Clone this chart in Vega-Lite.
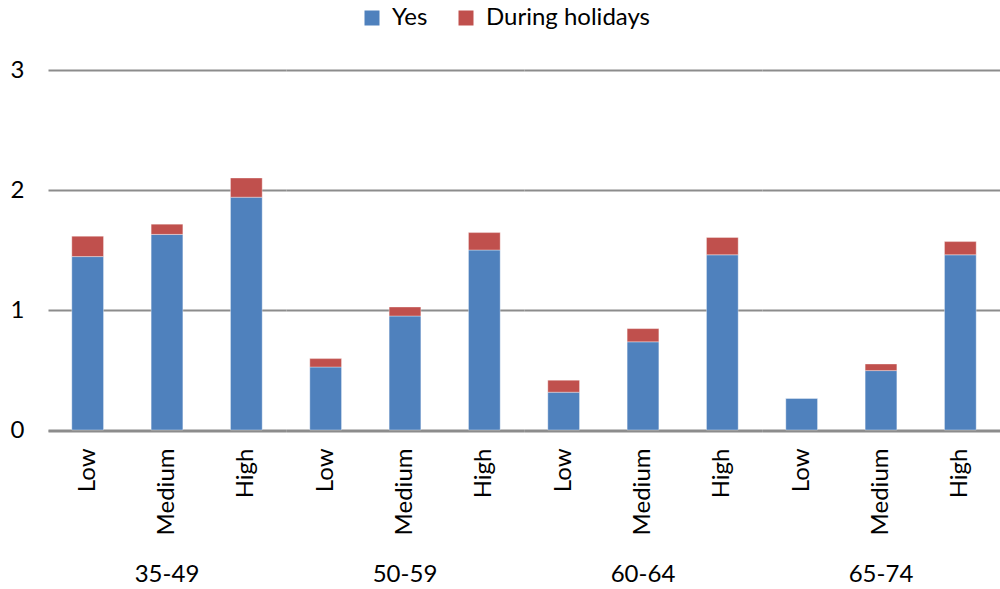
{
  "$schema": "https://vega.github.io/schema/vega-lite/v6.json",
  "background": "#ffffff",
  "padding": {"left": 10, "top": 6, "right": 0, "bottom": 0},
  "spacing": 0,
  "config": {
    "legend": {"layout": {"top": {"anchor": "middle"}}}
  },
  "data": {
    "values": [
      {"age": "35-49", "level": "Low", "answer": "Yes", "value": 1.445},
      {"age": "35-49", "level": "Low", "answer": "During holidays", "value": 0.17},
      {"age": "35-49", "level": "Medium", "answer": "Yes", "value": 1.63},
      {"age": "35-49", "level": "Medium", "answer": "During holidays", "value": 0.085},
      {"age": "35-49", "level": "High", "answer": "Yes", "value": 1.94},
      {"age": "35-49", "level": "High", "answer": "During holidays", "value": 0.16},
      {"age": "50-59", "level": "Low", "answer": "Yes", "value": 0.525},
      {"age": "50-59", "level": "Low", "answer": "During holidays", "value": 0.07},
      {"age": "50-59", "level": "Medium", "answer": "Yes", "value": 0.95},
      {"age": "50-59", "level": "Medium", "answer": "During holidays", "value": 0.075},
      {"age": "50-59", "level": "High", "answer": "Yes", "value": 1.5},
      {"age": "50-59", "level": "High", "answer": "During holidays", "value": 0.145},
      {"age": "60-64", "level": "Low", "answer": "Yes", "value": 0.315},
      {"age": "60-64", "level": "Low", "answer": "During holidays", "value": 0.1},
      {"age": "60-64", "level": "Medium", "answer": "Yes", "value": 0.735},
      {"age": "60-64", "level": "Medium", "answer": "During holidays", "value": 0.11},
      {"age": "60-64", "level": "High", "answer": "Yes", "value": 1.46},
      {"age": "60-64", "level": "High", "answer": "During holidays", "value": 0.145},
      {"age": "65-74", "level": "Low", "answer": "Yes", "value": 0.265},
      {"age": "65-74", "level": "Low", "answer": "During holidays", "value": 0},
      {"age": "65-74", "level": "Medium", "answer": "Yes", "value": 0.495},
      {"age": "65-74", "level": "Medium", "answer": "During holidays", "value": 0.055},
      {"age": "65-74", "level": "High", "answer": "Yes", "value": 1.46},
      {"age": "65-74", "level": "High", "answer": "During holidays", "value": 0.11}
    ]
  },
  "facet": {
    "column": {
      "field": "age",
      "type": "nominal",
      "sort": null,
      "title": null,
      "header": {
        "labelOrient": "bottom",
        "labelFont": "Lato",
        "labelFontSize": 24,
        "labelColor": "#000000",
        "labelPadding": 28
      }
    }
  },
  "spec": {
    "width": 238,
    "height": 360,
    "view": {"stroke": null},
    "mark": {"type": "bar", "stroke": "#ffffff", "strokeWidth": 0.6, "strokeOpacity": 0.6},
    "encoding": {
      "x": {
        "field": "level",
        "type": "nominal",
        "sort": ["Low", "Medium", "High"],
        "scale": {"paddingInner": 0.6, "paddingOuter": 0.3},
        "axis": {
          "title": null,
          "labelAngle": -90,
          "labelAlign": "right",
          "labelBaseline": "middle",
          "labelFont": "Lato",
          "labelFontSize": 24,
          "labelColor": "#000000",
          "labelPadding": 17,
          "ticks": false,
          "domainColor": "#8c8c8c",
          "domainWidth": 2
        }
      },
      "y": {
        "field": "value",
        "type": "quantitative",
        "stack": "zero",
        "scale": {"domain": [0, 3], "nice": false},
        "axis": {
          "title": null,
          "values": [0, 1, 2, 3],
          "format": "d",
          "labelFont": "Lato",
          "labelFontSize": 24,
          "labelColor": "#000000",
          "labelPadding": 24,
          "ticks": false,
          "domain": false,
          "gridColor": "#8c8c8c",
          "gridWidth": 2
        }
      },
      "color": {
        "field": "answer",
        "type": "nominal",
        "scale": {"domain": ["Yes", "During holidays"], "range": ["#4f81bd", "#c0504d"]},
        "legend": {
          "title": null,
          "orient": "top",
          "direction": "horizontal",
          "symbolType": "square",
          "symbolSize": 225,
          "symbolStrokeWidth": 0,
          "labelFont": "Lato",
          "labelFontSize": 24,
          "labelColor": "#000000",
          "labelLimit": 400,
          "labelOffset": 8,
          "columnPadding": 26,
          "offset": 28
        }
      },
      "order": {"field": "answer", "sort": "descending"}
    }
  }
}
